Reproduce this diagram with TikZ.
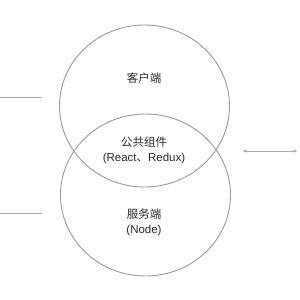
\documentclass[tikz,border=0pt]{standalone}
\usepackage{fontspec}
\usetikzlibrary{shapes.geometric,arrows.meta}
\setmainfont{Liberation Sans}
\newfontfamily\cjk{Noto Sans CJK SC}
\definecolor{ring}{HTML}{999999}
\definecolor{guide}{HTML}{AAAAAA}
\definecolor{txt}{HTML}{2A2A2A}
\begin{document}
\begin{tikzpicture}[x=1pt,y=-1pt,
  ringstyle/.style={draw=ring,line width=0.9pt},
  guidestyle/.style={draw=guide,line width=1pt},
  label/.style={text=txt,font=\fontsize{11.5}{15}\selectfont,align=center,inner sep=0pt}]
\useasboundingbox (0,0) rectangle (300,300);
\node[ringstyle,ellipse,minimum width=170pt,minimum height=162pt,inner sep=0pt] (client) at (144.5,106) {};
\node[ringstyle,ellipse,minimum width=170pt,minimum height=162pt,inner sep=0pt] (server) at (145.5,195) {};
\node[label] (clientlabel) at (144,78) {\cjk 客户端};
\node[label] (shared) at (144,150.5) {\cjk 公共组件\\(React{\cjk 、}Redux)};
\node[label] (serverlabel) at (144,222.5) {\cjk 服务端\\(Node)};
\coordinate (l1a) at (0,97);
\coordinate (l1b) at (42,97);
\coordinate (l2a) at (0,213);
\coordinate (l2b) at (42,213);
\coordinate (ara) at (242,151);
\coordinate (arb) at (298,151);
\draw[guidestyle] (l1a) -- (l1b);
\draw[guidestyle] (l2a) -- (l2b);
\draw[guidestyle,{Latex[length=4.5pt,width=3.5pt]}-{Latex[length=4.5pt,width=3.5pt]}] (ara) -- (arb);
\end{tikzpicture}
\end{document}
